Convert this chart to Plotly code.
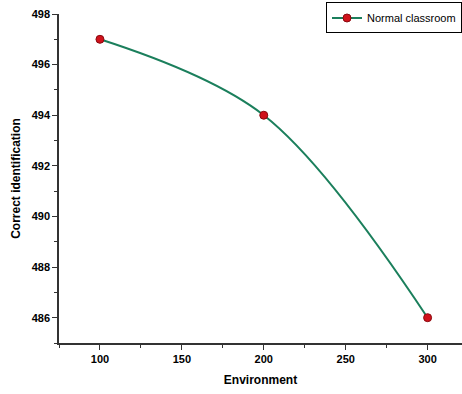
import plotly.graph_objects as go

environment = [100, 200, 300]
correct_identification = [497, 494, 486]
series_name = "Normal classroom"

fig = go.Figure()
fig.add_trace(go.Scatter(
    x=environment, y=correct_identification, name=series_name,
    mode="lines+markers",
    line=dict(color="#1b7f5c", width=2, shape="spline", smoothing=1.0),
    marker=dict(color="#d0121b", size=8, line=dict(color="#8a0a10", width=1)),
))

font_family = "Liberation Sans, Arial, sans-serif"
fig.update_layout(
    width=462, height=394,
    margin=dict(l=59, r=0, t=14, b=51),
    paper_bgcolor="white", plot_bgcolor="white",
    font=dict(family=font_family, color="black"),
    showlegend=True,
    legend=dict(x=1, y=1.035, xanchor="right", yanchor="top",
                bordercolor="black", borderwidth=1, bgcolor="white",
                font=dict(size=11, family=font_family),
                itemwidth=30, tracegroupgap=0),
)
fig.update_xaxes(
    range=[75, 321], tickvals=[100, 150, 200, 250, 300],
    showline=True, linecolor="#333", linewidth=1.5, mirror=False,
    ticks="outside", ticklen=5, tickwidth=1, tickcolor="#333",
    minor=dict(tickvals=[75, 125, 175, 225, 275], ticks="outside", ticklen=3, tickcolor="#333"),
    showgrid=False, zeroline=False,
    tickfont=dict(size=11, family="Liberation Sans, Arial", weight="bold"),
    title=dict(text="<b>Environment</b>", font=dict(size=12), standoff=12),
)
fig.update_yaxes(
    range=[485, 498], tickvals=[486, 488, 490, 492, 494, 496, 498],
    showline=True, linecolor="#333", linewidth=1.5, mirror=False,
    ticks="outside", ticklen=5, tickwidth=1, tickcolor="#333",
    minor=dict(tickvals=[485, 487, 489, 491, 493, 495, 497], ticks="outside", ticklen=3, tickcolor="#333"),
    showgrid=False, zeroline=False,
    tickfont=dict(size=11, family="Liberation Sans, Arial", weight="bold"),
    title=dict(text="<b>Correct identification</b>", font=dict(size=12), standoff=8),
)

fig.write_html("out.html")
